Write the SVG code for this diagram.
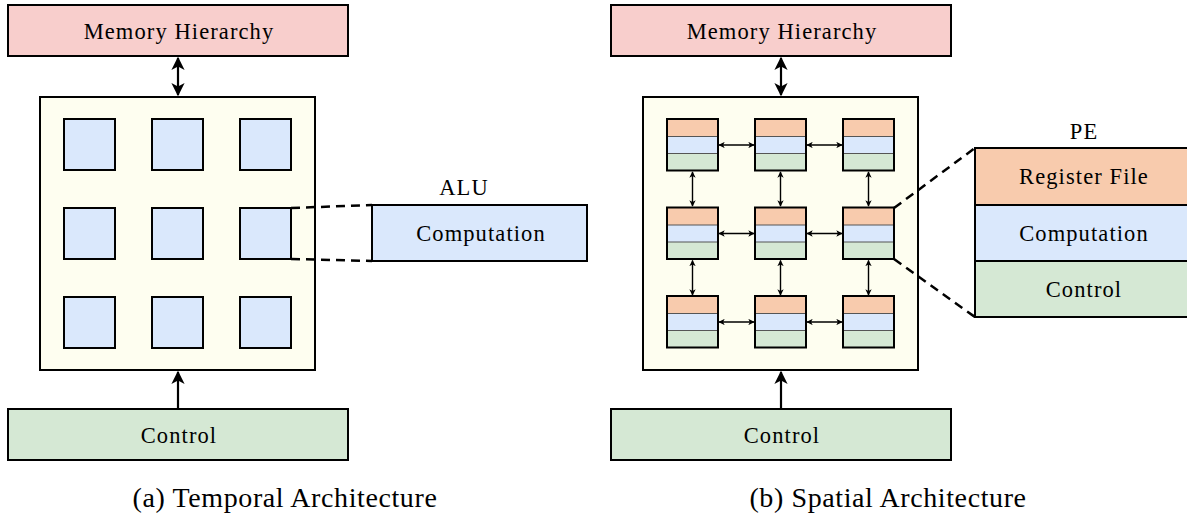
<svg xmlns="http://www.w3.org/2000/svg" width="1187" height="518" viewBox="0 0 1187 518">
  <style>
    .box { stroke: #000; stroke-width: 2; }
    .mem { fill: #f8cecc; }
    .ctl { fill: #d5e8d4; }
    .cmp { fill: #dae8fc; }
    .reg { fill: #f8cbad; }
    .core { fill: #fefef0; }
    .div { stroke: #555; stroke-width: 1.2; fill: none; }
    .lbl { font-family: "Liberation Serif", "DejaVu Serif", serif; font-size: 22.5px; letter-spacing: 1.1px; fill: #000; text-anchor: middle; dominant-baseline: central; }
    .cap { font-family: "Liberation Serif", "DejaVu Serif", serif; font-size: 28px; letter-spacing: 0.6px; fill: #000; text-anchor: middle; dominant-baseline: central; }
    .link { stroke: #000; stroke-width: 2.2; fill: none; }
    .thin { stroke: #000; stroke-width: 1.4; fill: none; }
    .dash { stroke: #000; stroke-width: 2.5; fill: none; stroke-dasharray: 9 6; }
  </style>
  <defs>
    <marker id="ah" viewBox="0 0 10 10" refX="9" refY="5" markerWidth="4.5" markerHeight="4.5" orient="auto-start-reverse">
      <path d="M0,0 L10,5 L0,10 L2.5,5 Z" fill="#000"/>
    </marker>
    <marker id="ahs" viewBox="0 0 10 10" refX="9" refY="5" markerWidth="6" markerHeight="6" orient="auto-start-reverse">
      <path d="M0,0 L10,5 L0,10 L2.5,5 Z" fill="#000"/>
    </marker>
    <g id="pe">
      <rect x="0" y="0" width="51" height="17.5" class="reg"/>
      <rect x="0" y="17.5" width="51" height="17" class="cmp"/>
      <rect x="0" y="34.5" width="51" height="17" class="ctl"/>
      <line x1="0" y1="17.5" x2="51" y2="17.5" class="div"/>
      <line x1="0" y1="34.5" x2="51" y2="34.5" class="div"/>
      <rect x="0" y="0" width="51" height="51.5" fill="none" stroke="#000" stroke-width="2"/>
    </g>
  </defs>

  <!-- (a) temporal -->
  <g id="a-memory">
    <rect x="8" y="5" width="340" height="51" class="box mem"/>
    <text x="179" y="31" class="lbl">Memory Hierarchy</text>
  </g>
  <g id="a-core">
    <rect x="40" y="97" width="275" height="273" class="box core"/>
    <g class="box cmp">
      <rect x="64" y="119" width="51" height="51"/>
      <rect x="152" y="119" width="51" height="51"/>
      <rect x="240" y="119" width="51" height="51"/>
      <rect x="64" y="208" width="51" height="51"/>
      <rect x="152" y="208" width="51" height="51"/>
      <rect x="240" y="208" width="51" height="51"/>
      <rect x="64" y="297" width="51" height="51"/>
      <rect x="152" y="297" width="51" height="51"/>
      <rect x="240" y="297" width="51" height="51"/>
    </g>
  </g>
  <g id="a-control">
    <rect x="8" y="409" width="340" height="51" class="box ctl"/>
    <text x="179" y="435" class="lbl">Control</text>
  </g>
  <g id="a-alu">
    <text x="464" y="187" class="lbl">ALU</text>
    <rect x="372" y="205" width="215" height="56" class="box cmp"/>
    <text x="481" y="233" class="lbl">Computation</text>
  </g>
  <text x="285" y="497" class="cap">(a) Temporal Architecture</text>

  <!-- (b) spatial -->
  <g id="b-memory">
    <rect x="611" y="5" width="340" height="51" class="box mem"/>
    <text x="782" y="31" class="lbl">Memory Hierarchy</text>
  </g>
  <g id="b-core">
    <rect x="643" y="97" width="275" height="273" class="box core"/>
  </g>
  <g id="b-pes">
    <use href="#pe" x="667" y="119"/>
    <use href="#pe" x="755" y="119"/>
    <use href="#pe" x="843" y="119"/>
    <use href="#pe" x="667" y="207.5"/>
    <use href="#pe" x="755" y="207.5"/>
    <use href="#pe" x="843" y="207.5"/>
    <use href="#pe" x="667" y="296"/>
    <use href="#pe" x="755" y="296"/>
    <use href="#pe" x="843" y="296"/>
  </g>
  <g id="b-control">
    <rect x="611" y="409" width="340" height="51" class="box ctl"/>
    <text x="782" y="435" class="lbl">Control</text>
  </g>
  <g id="b-pe-detail">
    <text x="1084" y="131" class="lbl">PE</text>
    <rect x="975" y="148" width="216" height="57" class="box reg"/>
    <rect x="975" y="205" width="216" height="56" class="box cmp"/>
    <rect x="975" y="261" width="216" height="56" class="box ctl"/>
    <text x="1084" y="176" class="lbl">Register File</text>
    <text x="1084" y="233" class="lbl">Computation</text>
    <text x="1084" y="289" class="lbl">Control</text>
  </g>
  <text x="888" y="497" class="cap">(b) Spatial Architecture</text>

  <!-- connectors -->
  <g id="connectors">
    <line x1="178" y1="58" x2="178" y2="95" class="link" marker-start="url(#ahs)" marker-end="url(#ahs)"/>
    <line x1="178" y1="408" x2="178" y2="372" class="link" marker-end="url(#ahs)"/>
    <path d="M291,208 L372,205 M291,259 L372,261" class="dash"/>

    <line x1="781" y1="58" x2="781" y2="95" class="link" marker-start="url(#ahs)" marker-end="url(#ahs)"/>
    <line x1="781" y1="408" x2="781" y2="372" class="link" marker-end="url(#ahs)"/>
    <path d="M894,208 L975,148 M894,259 L975,317" class="dash"/>

    <g marker-start="url(#ah)" marker-end="url(#ah)">
      <line x1="719" y1="145" x2="754" y2="145" class="thin"/>
      <line x1="807" y1="145" x2="842" y2="145" class="thin"/>
      <line x1="719" y1="233.5" x2="754" y2="233.5" class="thin"/>
      <line x1="807" y1="233.5" x2="842" y2="233.5" class="thin"/>
      <line x1="719" y1="322" x2="754" y2="322" class="thin"/>
      <line x1="807" y1="322" x2="842" y2="322" class="thin"/>
      <line x1="692.5" y1="172" x2="692.5" y2="206" class="thin"/>
      <line x1="780.5" y1="172" x2="780.5" y2="206" class="thin"/>
      <line x1="868.5" y1="172" x2="868.5" y2="206" class="thin"/>
      <line x1="692.5" y1="260.5" x2="692.5" y2="295" class="thin"/>
      <line x1="780.5" y1="260.5" x2="780.5" y2="295" class="thin"/>
      <line x1="868.5" y1="260.5" x2="868.5" y2="295" class="thin"/>
    </g>
  </g>
</svg>
